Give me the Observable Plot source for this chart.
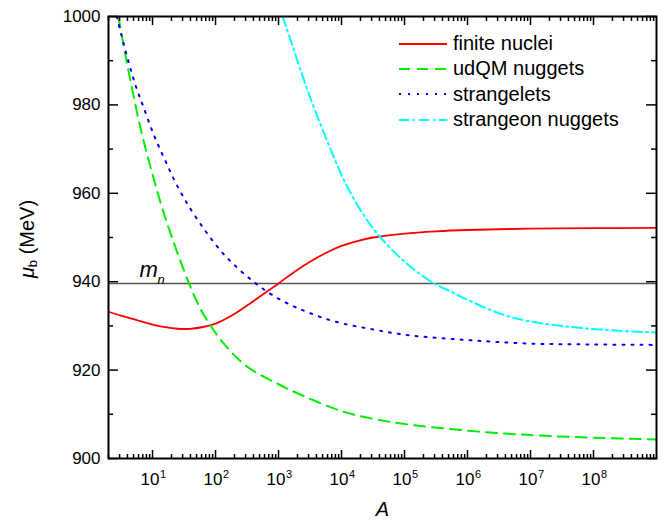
<!DOCTYPE html>
<html>
<head>
<meta charset="utf-8">
<script src="https://cdn.jsdelivr.net/npm/d3@7"></script>
<script src="https://cdn.jsdelivr.net/npm/@observablehq/plot@0.6"></script>
<style>
  body { margin: 0; background: #fff; font-family: "Liberation Sans", Arial, sans-serif; }
  #wrap { position: relative; width: 662px; height: 521px; overflow: hidden; }
  #ytitle { position: absolute; left: 28px; top: 239px; transform: translate(-50%, -50%) rotate(-90deg);
            white-space: nowrap; font-size: 20px; color: #000; }
  #ytitle sub { font-size: 13px; vertical-align: -3px; }
  #legend { position: absolute; left: 399px; top: 31px; font-size: 20px; color: #000; }
  .row { display: flex; align-items: center; height: 25.3px; }
  .row svg { width: 48px; height: 10px; margin-right: 6px; }
</style>
</head>
<body>
<div id="wrap">
  <div id="ytitle"><i>μ</i><sub>b</sub> (MeV)</div>
  <div id="legend"></div>
</div>
<script>
// ---------- data ----------
const nucleiA  = [2, 3.16, 5.62, 10, 15.8, 25.1, 39.8, 63.1, 100, 178, 316, 562, 1000, 1780, 3160, 5620, 1e4, 1.78e4, 3.16e4, 1e5, 3.16e5, 1e6, 1e7, 1e8, 1e9];
const nucleiMu = [933.2, 932.3, 931.3, 930.3, 929.7, 929.35, 929.35, 929.75, 930.5, 932.3, 934.6, 937.1, 939.6, 942.2, 944.5, 946.5, 948.1, 949.2, 950.0, 950.9, 951.4, 951.7, 952.0, 952.1, 952.2];

const udqmA  = [2.87, 3.5, 4.47, 6.7, 10, 13.8, 20, 37, 56, 83, 143, 316, 1000, 3160, 1.12e4, 3.16e4, 8.9e4, 1e6, 1e7, 1e8, 1e9];
const udqmMu = [1000, 993.2, 985.4, 973.7, 964.3, 957.3, 950.3, 940.0, 934.2, 930.1, 925.6, 920.8, 916.8, 913.5, 910.5, 909.0, 907.9, 906.3, 905.3, 904.7, 904.3];

const strangeletA  = [2.7, 4.11, 5.56, 7.11, 10.3, 15.8, 25.7, 45.7, 119, 224, 427, 813, 1580, 3020, 7760, 3.16e4, 1.15e5, 1e6, 1e7, 1e8, 1e9];
const strangeletMu = [1000, 990.0, 983.8, 979.7, 973.5, 967.5, 961.2, 955.2, 947.1, 943.1, 939.7, 936.9, 934.7, 933.0, 931.0, 929.2, 927.9, 926.8, 926.0, 925.8, 925.7];

const strangeonA  = [1160, 1500, 3270, 8710, 1.12e4, 2e4, 3.98e4, 1.15e5, 2.95e5, 5.01e5, 1e6, 3.55e6, 1e7, 4.07e7, 2e8, 1e9];
const strangeonMu = [1000, 995.3, 981.2, 966.1, 962.7, 956.2, 950.3, 943.8, 939.6, 938.0, 935.9, 932.6, 931.0, 929.8, 929.0, 928.5];

const seriesNames  = ["finite nuclei", "udQM nuggets", "strangelets", "strangeon nuggets"];
const seriesColors = ["#ff0000", "#00ee00", "#0000ff", "#00ffff"];
const seriesDashes = [null, "11,7", "2,7", "10,4,2,4"];

const neutronMass = 939.57;
const yTicksMajor = [900, 920, 940, 960, 980, 1000];
const yTicksMinor = [910, 930, 950, 970, 990];
const xTicksMajor = [1e1, 1e2, 1e3, 1e4, 1e5, 1e6, 1e7, 1e8];
const xExponents  = ["1", "2", "3", "4", "5", "6", "7", "8"];
const xMinorMultipliers = [2, 3, 4, 5, 6, 7, 8, 9];
const xDecades = [1, 1e1, 1e2, 1e3, 1e4, 1e5, 1e6, 1e7, 1e8];

// ---------- layout ----------
const W = 662, H = 521, mL = 108, mR = 6, mT = 16, mB = 63;
const fw = W - mL - mR, fh = H - mT - mB;

const seriesData = [
  [nucleiA, nucleiMu], [udqmA, udqmMu], [strangeletA, strangeletMu], [strangeonA, strangeonMu]
].map(([A, mu], k) => A.map((a, i) => ({A: a, mu: mu[i], name: seriesNames[k]})));

const xMinor = xDecades.flatMap(d => xMinorMultipliers.map(m => m * d)).filter(v => v >= 2 && v <= 1e9);
const xMajorIdx = xTicksMajor.map((d, i) => ({v: d, e: xExponents[i]}));

const lineMarks = seriesData.map((data, k) => Plot.line(data, {
  x: "A", y: "mu", stroke: seriesColors[k], strokeWidth: k === 0 ? 1.8 : 2,
  strokeDasharray: seriesDashes[k] ?? undefined, curve: "catmull-rom", clip: true
}));

const tickStyle = {stroke: "#000", strokeWidth: 1.5};
const chart = Plot.plot({
  width: W, height: H,
  marginLeft: mL, marginRight: mR, marginTop: mT, marginBottom: mB,
  style: {fontFamily: "Liberation Sans, Arial, sans-serif", fontSize: "17px", background: "transparent", color: "#000"},
  x: {type: "log", domain: [2, 1e9], axis: null},
  y: {domain: [900, 1000], axis: null},
  marks: [
    Plot.ruleY([neutronMass], {y: d => d, stroke: "#555", strokeWidth: 1.5}),
    ...lineMarks,
    // inward ticks on all four sides
    Plot.tickX(xTicksMajor, {x: d => d, ...tickStyle, insetTop: fh - 8}),
    Plot.tickX(xMinor, {x: d => d, ...tickStyle, insetTop: fh - 4}),
    Plot.tickX(xTicksMajor, {x: d => d, ...tickStyle, insetBottom: fh - 9}),
    Plot.tickX(xMinor, {x: d => d, ...tickStyle, insetBottom: fh - 5}),
    Plot.tickY(yTicksMajor, {y: d => d, ...tickStyle, insetRight: fw - 10}),
    Plot.tickY(yTicksMinor, {y: d => d, ...tickStyle, insetRight: fw - 5}),
    Plot.tickY(yTicksMajor, {y: d => d, ...tickStyle, insetLeft: fw - 10}),
    Plot.tickY(yTicksMinor, {y: d => d, ...tickStyle, insetLeft: fw - 5}),
    Plot.frame({stroke: "#000", strokeWidth: 2}),
    // tick labels
    Plot.text(yTicksMajor, {y: d => d, frameAnchor: "left", text: d => String(d), textAnchor: "end", dx: -8, fontSize: 17, fill: "#000"}),
    Plot.text(xMajorIdx, {x: "v", frameAnchor: "bottom", text: () => "10", textAnchor: "end", dx: 7, dy: 26, fontSize: 17, fill: "#000"}),
    Plot.text(xMajorIdx, {x: "v", frameAnchor: "bottom", text: "e", textAnchor: "start", dx: 7.5, dy: 19, fontSize: 11, fill: "#000"}),
    // x title
    Plot.text(["A"], {frameAnchor: "bottom", text: d => d, dy: 57, fontSize: 20, fontStyle: "italic", fill: "#000"}),
    // m_n label
    Plot.text([neutronMass], {y: d => d, frameAnchor: "left", text: () => "m", textAnchor: "start", dx: 31, dy: -14, fontSize: 22, fontStyle: "italic", fill: "#000"}),
    Plot.text([neutronMass], {y: d => d, frameAnchor: "left", text: () => "n", textAnchor: "start", dx: 49, dy: -4, fontSize: 13, fontStyle: "italic", fill: "#000"})
  ]
});
chart.style.position = "absolute";
chart.style.left = "0px";
chart.style.top = "0px";
document.getElementById("wrap").prepend(chart);

// legend
const legend = document.getElementById("legend");
seriesNames.forEach((name, k) => {
  const row = document.createElement("div");
  row.className = "row";
  const dash = seriesDashes[k] ? `stroke-dasharray="${seriesDashes[k]}"` : "";
  row.innerHTML = `<svg viewBox="0 0 48 10"><line x1="0" y1="5" x2="48" y2="5" stroke="${seriesColors[k]}" stroke-width="2" ${dash}/></svg><span>${name}</span>`;
  legend.appendChild(row);
});
</script>
</body>
</html>
